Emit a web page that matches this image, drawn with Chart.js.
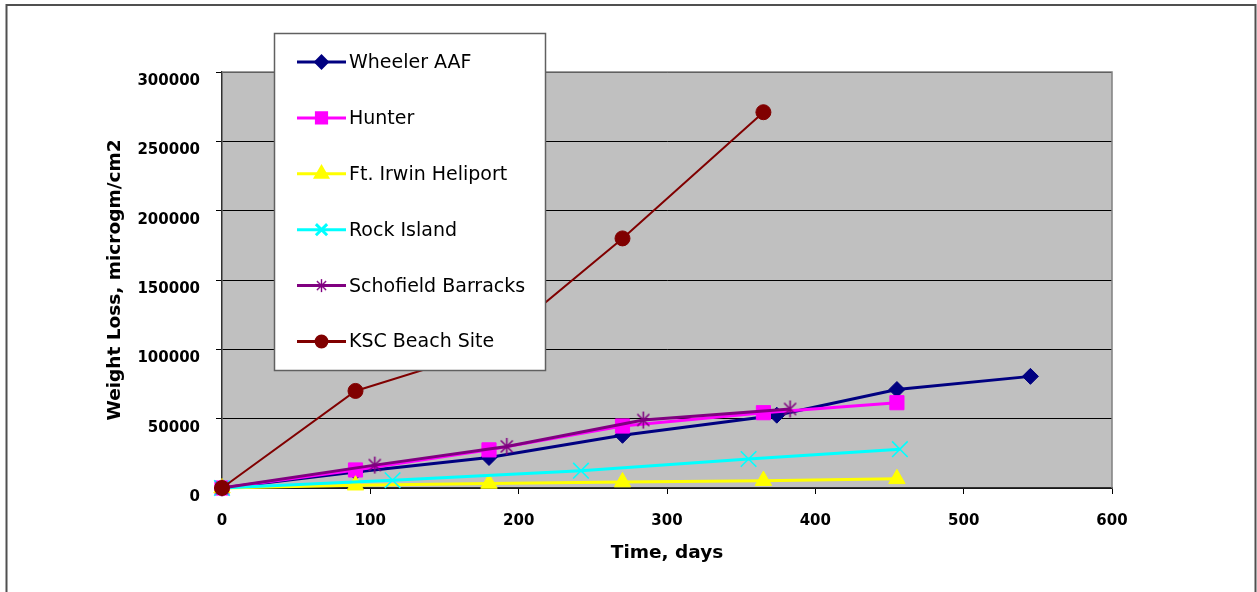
<!DOCTYPE html>
<html>
<head>
<meta charset="utf-8">
<title>Weight Loss vs Time</title>
<script src="https://cdn.jsdelivr.net/npm/chart.js@4/dist/chart.umd.min.js"></script>
<style>
  html, body { margin: 0; padding: 0; background: #ffffff; }
  #wrap { width: 1257px; height: 592px; position: relative; }
</style>
</head>
<body>
<div id="wrap"><canvas id="chart" width="1257" height="592"></canvas></div>
<script>
// Exposure time (days) and weight loss (microgm/cm2) for each test site
const wheelerDays   = [0, 90, 180, 270, 374, 455, 545];
const wheelerLoss   = [0, 11500, 22000, 38000, 52500, 71000, 80500];

const hunterDays    = [0, 90, 180, 270, 365, 455];
const hunterLoss    = [0, 13000, 27500, 44700, 54300, 61500];

const irwinDays     = [0, 90, 180, 270, 365, 455];
const irwinLoss     = [0, 2000, 3300, 4300, 5300, 6600];

const rockDays      = [0, 115, 242, 355, 457];
const rockLoss      = [0, 5600, 12500, 20900, 28000];

const schofieldDays = [0, 103, 192, 284, 383];
const schofieldLoss = [0, 16500, 30000, 49000, 57000];

const kscDays       = [0, 90, 180, 270, 365];
const kscLoss       = [0, 70000, 100000, 180000, 271000];

const siteNames = ['Wheeler AAF', 'Hunter', 'Ft. Irwin Heliport', 'Rock Island', 'Schofield Barracks', 'KSC Beach Site'];

// Axis ticks
const xTickValues = [0, 100, 200, 300, 400, 500, 600];
const yTickValues = [0, 50000, 100000, 150000, 200000, 250000, 300000];

function pairs(xs, ys) { return xs.map((x, i) => ({ x: x, y: ys[i] })); }

// Six-spoke asterisk marker
function asteriskMarker(size, color, width) {
  const c = document.createElement('canvas');
  c.width = size; c.height = size;
  const g = c.getContext('2d');
  const m = size / 2, r = size / 2 - 1;
  g.strokeStyle = color; g.lineWidth = width; g.lineCap = 'butt';
  g.beginPath();
  g.moveTo(m, m - r); g.lineTo(m, m + r);
  const d = r * Math.SQRT1_2;
  g.moveTo(m - d, m - d); g.lineTo(m + d, m + d);
  g.moveTo(m - d, m + d); g.lineTo(m + d, m - d);
  g.stroke();
  return c;
}
const starBig = asteriskMarker(19, '#800080', 1.6);
const starSmall = asteriskMarker(15, '#800080', 1.4);

const series = [
  { label: siteNames[0], data: pairs(wheelerDays, wheelerLoss), color: '#000080', style: 'rectRot', radius: 8, lw: 3, order: 6 },
  { label: siteNames[1], data: pairs(hunterDays, hunterLoss), color: '#FF00FF', style: 'rect', radius: 10, lw: 3, order: 5 },
  { label: siteNames[2], data: pairs(irwinDays, irwinLoss), color: '#FFFF00', style: 'triangle', radius: 9.5, lw: 3, order: 4 },
  { label: siteNames[3], data: pairs(rockDays, rockLoss), color: '#00FFFF', style: 'crossRot', radius: 11, lw: 3, order: 3 },
  { label: siteNames[4], data: pairs(schofieldDays, schofieldLoss), color: '#800080', style: starBig, legendStyle: starSmall, radius: 9, lw: 3, order: 2 },
  { label: siteNames[5], data: pairs(kscDays, kscLoss), color: '#800000', style: 'circle', radius: 7.5, lw: 2, order: 1 }
];

const datasets = series.map(s => ({
  label: s.label,
  data: s.data,
  borderColor: s.color,
  backgroundColor: s.color,
  borderWidth: s.lw,
  pointStyle: s.style,
  pointRadius: s.radius,
  pointHoverRadius: s.radius,
  pointBackgroundColor: s.color,
  pointBorderColor: s.color,
  pointBorderWidth: s.style === 'crossRot' ? 1.6 : 1,
  tension: 0,
  fill: false,
  clip: false,
  order: s.order
}));

// Plot background, outer frame and the boxed legend
const framePlugin = {
  id: 'frame',
  beforeDraw(chart) {
    const { ctx, chartArea: a } = chart;
    ctx.save();
    ctx.fillStyle = '#C0C0C0';
    ctx.fillRect(a.left, a.top, a.right - a.left, a.bottom - a.top);
    ctx.strokeStyle = '#505050';
    ctx.lineWidth = 2;
    ctx.beginPath();
    ctx.moveTo(6.5, 600); ctx.lineTo(6.5, 5); ctx.lineTo(1255.5, 5); ctx.lineTo(1255.5, 600);
    ctx.stroke();
    ctx.restore();
  },
  afterDraw(chart) {
    const { ctx, chartArea: a } = chart;
    ctx.save();
    // top and right edges of the plot area
    ctx.strokeStyle = '#808080';
    ctx.lineWidth = 1.5;
    ctx.beginPath();
    ctx.moveTo(a.left, a.top); ctx.lineTo(a.right, a.top); ctx.lineTo(a.right, a.bottom);
    ctx.stroke();

    // legend box
    const box = { x: 274, y: 33, w: 272, h: 338 };
    ctx.fillStyle = '#ffffff';
    ctx.fillRect(box.x, box.y, box.w, box.h);
    ctx.strokeStyle = '#606060';
    ctx.lineWidth = 1.5;
    ctx.strokeRect(box.x + 0.5, box.y + 0.5, box.w - 1, box.h - 1);

    const firstY = 62, step = 55.9;
    ctx.font = '19px "DejaVu Sans"';
    ctx.textBaseline = 'middle';
    ctx.textAlign = 'left';
    series.forEach((s, i) => {
      const y = firstY + i * step;
      ctx.strokeStyle = s.color;
      ctx.lineWidth = 3;
      ctx.beginPath();
      ctx.moveTo(297, y); ctx.lineTo(346, y);
      ctx.stroke();
      ctx.fillStyle = s.color;
      ctx.strokeStyle = s.color;
      Chart.helpers.drawPoint(ctx, {
        pointStyle: s.legendStyle || s.style,
        rotation: 0,
        radius: s.radius * 0.72,
        borderWidth: s.style === 'crossRot' ? 1.5 : 1
      }, 321.5, y);
      ctx.fillStyle = '#000000';
      ctx.fillText(s.label, 349, y + 1);
    });
    ctx.restore();
  }
};

new Chart(document.getElementById('chart'), {
  type: 'line',
  data: { datasets: datasets },
  plugins: [framePlugin],
  options: {
    responsive: false,
    animation: false,
    devicePixelRatio: 1,
    events: [],
    layout: { padding: { left: 0, right: 145, top: 72, bottom: 0 } },
    plugins: {
      legend: { display: false },
      tooltip: { enabled: false },
      title: { display: false }
    },
    scales: {
      x: {
        type: 'linear',
        min: 0,
        max: 600,
        afterBuildTicks(scale) { scale.ticks = xTickValues.map(v => ({ value: v })); },
        afterFit(scale) { scale.height = 104; },
        grid: { drawOnChartArea: false, drawTicks: true, tickLength: 6, color: '#000000', lineWidth: 1 },
        border: { display: true, color: '#303030', width: 1.5 },
        ticks: {
          padding: 18,
          color: '#000000',
          font: { family: 'DejaVu Sans', size: 15, weight: 'bold' },
          maxRotation: 0,
          callback: v => String(v)
        },
        title: {
          display: true,
          text: 'Time, days',
          color: '#000000',
          font: { family: 'DejaVu Sans', size: 18.5, weight: 'bold' },
          padding: { top: 0, bottom: 28 }
        }
      },
      y: {
        type: 'linear',
        min: 0,
        max: 300000,
        afterBuildTicks(scale) { scale.ticks = yTickValues.map(v => ({ value: v })); },
        afterFit(scale) { scale.width = 222; },
        grid: { drawOnChartArea: true, drawTicks: true, tickLength: 6, color: '#000000', lineWidth: 1 },
        border: { display: true, color: '#303030', width: 1.5 },
        ticks: {
          padding: 16,
          labelOffset: 9,
          color: '#000000',
          font: { family: 'DejaVu Sans', size: 15, weight: 'bold' },
          callback: v => String(v)
        },
        title: {
          display: true,
          text: 'Weight Loss, microgm/cm2',
          color: '#000000',
          font: { family: 'DejaVu Sans', size: 18.5, weight: 'bold' },
          padding: { top: 104, bottom: 0 }
        }
      }
    }
  }
});
</script>
</body>
</html>
